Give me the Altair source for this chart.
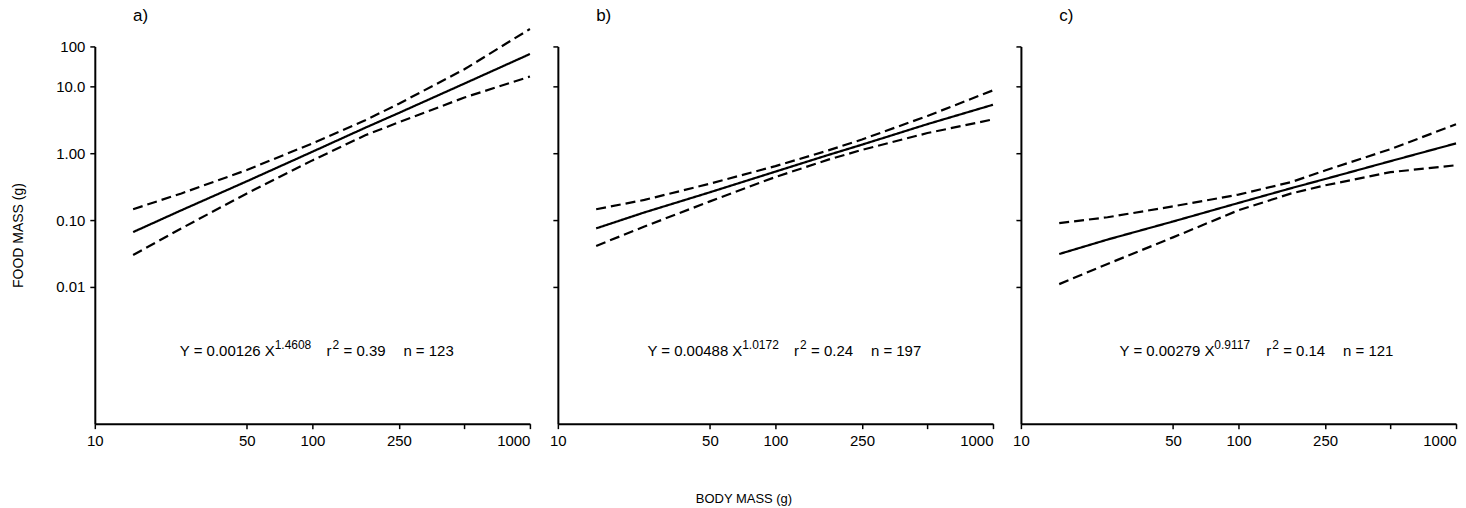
import altair as alt
import pandas as pd

# ---------------- data ----------------
body_mass = [15, 25, 50, 100, 175, 250, 500, 1000]

fit_a   = [0.066, 0.14, 0.38, 1.05, 2.4, 4.0, 11.0, 30.4]
upper_a = [0.145, 0.25, 0.56, 1.4, 3.1, 5.5, 18.0, 72.0]
lower_a = [0.030, 0.075, 0.25, 0.78, 1.85, 2.9, 6.8, 14.0]

fit_b   = [0.075, 0.13, 0.26, 0.53, 0.94, 1.34, 2.72, 5.3]
upper_b = [0.145, 0.20, 0.35, 0.64, 1.1, 1.6, 3.6, 8.7]
lower_b = [0.041, 0.08, 0.19, 0.44, 0.80, 1.12, 2.0, 3.2]

fit_c   = [0.031, 0.051, 0.095, 0.18, 0.30, 0.41, 0.76, 1.4]
upper_c = [0.09, 0.11, 0.16, 0.24, 0.37, 0.55, 1.15, 2.7]
lower_c = [0.011, 0.022, 0.055, 0.14, 0.25, 0.33, 0.52, 0.66]

panel_labels = ["a)", "b)", "c)"]
coefs = ["0.00126", "0.00488", "0.00279"]
exponents = ["1.4608", "1.0172", "0.9117"]
r_squared = ["0.39", "0.24", "0.14"]
n_obs = ["123", "197", "121"]

x_ticks = [10, 50, 100, 250, 500, 1000]
x_tick_labels = ["10", "50", "100", "250", "", "1000"]
y_ticks = [0.01, 0.1, 1, 10, 39.5]
y_tick_labels = ["0.01", "0.10", "1.00", "10.0", "100"]

# ---------------- layout constants ----------------
Y_MIN, Y_MAX = 9.0e-5, 39.5
X_MIN, X_MAX = 10, 1000
W, H = 436, 378
FONT = "Liberation Sans"

eq_anchor_x = [24.6, 25.8, 28.4]
eq_anchor_y = 1.1e-3
label_anchor_x = 15.0
label_anchor_y = 111


def ternary(ticks, labels):
    parts = []
    for t, l in zip(ticks, labels):
        parts.append(f"abs(datum.value - {t}) < {t * 0.01} ? '{l}'")
    return " : ".join(parts) + " : ''"


x_expr = ternary(x_ticks, x_tick_labels)
y_expr = ternary(y_ticks, y_tick_labels)

xs = alt.Scale(type="log", domain=[X_MIN, X_MAX], nice=False)
ys = alt.Scale(type="log", domain=[Y_MIN, Y_MAX], nice=False)


def make_panel(i, fit, up, lo):
    n = len(body_mass)
    df = pd.DataFrame({
        "mass": body_mass * 3,
        "food": fit + up + lo,
        "curve": ["fit"] * n + ["upper"] * n + ["lower"] * n,
    })
    x_axis_kw = dict(
        values=x_ticks, labelExpr=x_expr, grid=False,
        labelAlign={"condition": {"test": "datum.value >= 999", "value": "right"}, "value": "center"},
        title="",
    )
    if i == 1:
        x_axis_kw.update(title="BODY MASS (g)", titleX=186, titleY=75,
                         titleAlign="center", titleBaseline="middle")
    y_axis_kw = dict(values=y_ticks, grid=False, title="")
    if i == 0:
        y_axis_kw.update(labelExpr=y_expr, title="FOOD MASS (g)", titlePadding=30,
                         titleFontSize=14)
    else:
        y_axis_kw.update(labels=False)

    lines = alt.Chart(df).mark_line(color="black", strokeWidth=2.2).encode(
        x=alt.X("mass:Q", scale=xs, axis=alt.Axis(**x_axis_kw)),
        y=alt.Y("food:Q", scale=ys, axis=alt.Axis(**y_axis_kw)),
        detail="curve:N",
        strokeDash=alt.StrokeDash(
            "curve:N",
            scale=alt.Scale(domain=["fit", "upper", "lower"],
                            range=[[1, 0], [10, 5], [10, 5]]),
            legend=None,
        ),
    )

    layers = [lines]

    lab_df = pd.DataFrame({"mass": [label_anchor_x], "food": [label_anchor_y],
                           "t": [panel_labels[i]]})
    layers.append(
        alt.Chart(lab_df).mark_text(align="left", baseline="middle", fontSize=17,
                                    font=FONT, color="black").encode(
            x=alt.X("mass:Q", scale=xs), y=alt.Y("food:Q", scale=ys), text="t:N")
    )

    segments = [
        (f"Y = {coefs[i]} X", 0, 0, 15),
        (exponents[i], 95, -6, 12),
        ("r", 147, 0, 15),
        ("2", 153, -6, 12),
        (f"= {r_squared[i]}", 164, 0, 15),
        (f"n = {n_obs[i]}", 224, 0, 15),
    ]
    for txt, dx, dy, fs in segments:
        sdf = pd.DataFrame({"mass": [eq_anchor_x[i]], "food": [eq_anchor_y], "t": [txt]})
        layers.append(
            alt.Chart(sdf).mark_text(align="left", baseline="middle", fontSize=fs,
                                     dx=dx, dy=dy, font=FONT, color="black").encode(
                x=alt.X("mass:Q", scale=xs), y=alt.Y("food:Q", scale=ys), text="t:N")
        )

    return alt.layer(*layers).properties(width=W, height=H)


pa = make_panel(0, fit_a, upper_a, lower_a)
pb = make_panel(1, fit_b, upper_b, lower_b)
pc = make_panel(2, fit_c, upper_c, lower_c)

chart = (
    alt.hconcat(pa, pb, pc, spacing=28, bounds="flush")
    .properties(padding={"left": 11, "top": 6, "right": 5, "bottom": 5},
                background="white")
    .configure_view(stroke=None)
    .configure_axis(
        domainColor="black", domainWidth=2, tickColor="black", tickWidth=1.5,
        tickSize=5, labelPadding=5, labelFont=FONT, labelFontSize=15,
        labelColor="black", titleFont=FONT, titleFontSize=13, titleColor="black",
        titleFontWeight="normal",
    )
)

chart.save("out.html", embed_options={"renderer": "svg", "actions": False})
